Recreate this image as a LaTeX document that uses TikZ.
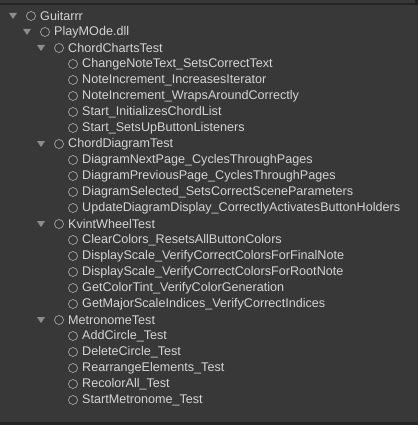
\documentclass[tikz,border=0pt]{standalone}
\usepackage{fontspec}
\setmainfont{Liberation Sans}
\definecolor{panel}{RGB}{56, 56, 56}
\definecolor{edge}{RGB}{35, 35, 35}
\definecolor{label}{RGB}{212, 212, 212}
\definecolor{ring}{RGB}{165, 165, 165}
\definecolor{fold}{RGB}{140, 140, 140}

\begin{document}
\begin{tikzpicture}[x=1pt, y=-1pt,
    item/.style={anchor=west, text=label, inner sep=0pt, font=\fontsize{12.6}{14}\selectfont},
    state/.style={circle, draw=ring, line width=0.7pt, minimum size=9pt, inner sep=0pt},
    arrowfold/.style={fill=fold}]
    % Panel
    \fill[panel] (0,0) rectangle (418,425);
    \useasboundingbox (0,0) rectangle (418,425);
    \fill[edge] (0,3.5) rectangle (418,5);
    \fill[edge] (415,0) rectangle (418,5);
    \fill[edge!90!panel] (0,422) rectangle (418,425);

    % Folding triangles
    \foreach \d/\r in {0/0, 1/1, 2/2, 2/8, 2/13, 2/19} {
        \fill[arrowfold] ({9+14*\d},{13+16*\r}) -- ++(8,0) -- ++(-4,6) -- cycle;
    }

    % Root and assembly
    \node[state] (groot) at (31,16) {};
    \node[item] (lroot) at (40,16) {Guitarrr};
    \node[state] (gdll) at (45,32) {};
    \node[item] (ldll) at (54,32) {PlayMOde.dll};

    % Fixtures
    \node[state] (gcharts) at (59,48) {};
    \node[item] (lcharts) at (68,48) {ChordChartsTest};
    \node[state] (gdiagram) at (59,144) {};
    \node[item] (ldiagram) at (68,144) {ChordDiagramTest};
    \node[state] (gwheel) at (59,224) {};
    \node[item] (lwheel) at (68,224) {KvintWheelTest};
    \node[state] (gmetro) at (59,320) {};
    \node[item] (lmetro) at (68,320) {MetronomeTest};

    % Tests
    \foreach \r/\name in {3/ChangeNoteText\_SetsCorrectText,
                          4/NoteIncrement\_IncreasesIterator,
                          5/NoteIncrement\_WrapsAroundCorrectly,
                          6/Start\_InitializesChordList,
                          7/Start\_SetsUpButtonListeners,
                          9/DiagramNextPage\_CyclesThroughPages,
                          10/DiagramPreviousPage\_CyclesThroughPages,
                          11/DiagramSelected\_SetsCorrectSceneParameters,
                          12/UpdateDiagramDisplay\_CorrectlyActivatesButtonHolders,
                          14/ClearColors\_ResetsAllButtonColors,
                          15/DisplayScale\_VerifyCorrectColorsForFinalNote,
                          16/DisplayScale\_VerifyCorrectColorsForRootNote,
                          17/GetColorTint\_VerifyColorGeneration,
                          18/GetMajorScaleIndices\_VerifyCorrectIndices,
                          20/AddCircle\_Test,
                          21/DeleteCircle\_Test,
                          22/RearrangeElements\_Test,
                          23/RecolorAll\_Test,
                          24/StartMetronome\_Test} {
        \node[state] (g\r) at (73,{16+16*\r}) {};
        \node[item] (l\r) at (82,{16+16*\r}) {\name};
    }
\end{tikzpicture}
\end{document}
